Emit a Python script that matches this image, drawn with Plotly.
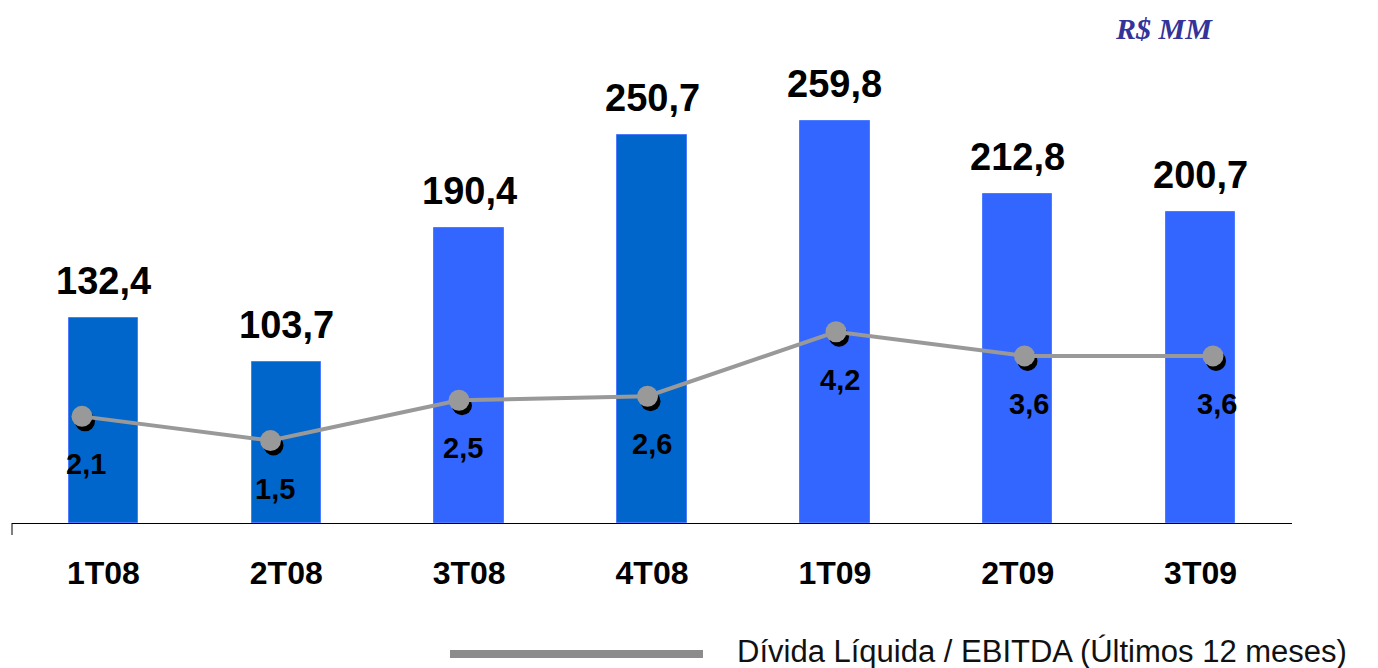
import plotly.graph_objects as go

categories = ["1T08", "2T08", "3T08", "4T08", "1T09", "2T09", "3T09"]
divida_liquida = [132.4, 103.7, 190.4, 250.7, 259.8, 212.8, 200.7]
divida_ebitda = [2.1, 1.5, 2.5, 2.6, 4.2, 3.6, 3.6]
bar_colors = ["#0066CC", "#0066CC", "#3366FF", "#0066CC", "#3366FF", "#3366FF", "#3366FF"]
legend_label = "Dívida Líquida / EBITDA (Últimos 12 meses)"
unit_label = "R$ MM"

# page body has an 8px default margin; size figure so it fits the window
OFF = 8
W, H = 1378 - OFF, 668 - OFF
L, T = 12 - OFF, 60 - OFF
axis_y = 523 - OFF
right_px = 1292 - OFF
R = W - right_px
B = H - axis_y
plot_w = W - L - R
plot_h = H - T - B

def px_x(x):   # reference pixel x -> paper
    return (x - OFF - L) / plot_w

def px_y(y):   # reference pixel y -> paper
    return (axis_y - (y - OFF)) / plot_h

def fmt(v):
    return f"{v:.1f}".replace(".", ",")

idx = list(range(len(categories)))

fig = go.Figure()
fig.add_trace(go.Bar(
    x=categories, y=divida_liquida, width=0.38,
    marker=dict(color=bar_colors, line=dict(color="#4d7cff", width=1)),
    hoverinfo="skip", showlegend=False,
))
# shadow markers
fig.add_trace(go.Scatter(
    x=idx, y=divida_ebitda, xaxis="x2", yaxis="y2", mode="markers",
    marker=dict(size=20, color="#000000"), showlegend=False, hoverinfo="skip",
))
fig.add_trace(go.Scatter(
    x=idx, y=divida_ebitda, xaxis="x3", yaxis="y3", mode="lines+markers",
    line=dict(color="#999999", width=4),
    marker=dict(size=21, color="#999999"), showlegend=False, hoverinfo="skip",
))

annotations = []
for c, v in zip(categories, divida_liquida):
    annotations.append(dict(
        x=c, y=v, xref="x", yref="y", text=fmt(v), showarrow=False,
        yanchor="bottom", yshift=14,
        font=dict(family="Liberation Sans", size=38, color="#000000", weight="bold"),
    ))
for i, v in zip(idx, divida_ebitda):
    annotations.append(dict(
        x=i, y=v, xref="x3", yref="y3", text=fmt(v), showarrow=False,
        yanchor="middle", yshift=-48, xshift=4,
        font=dict(family="Liberation Sans", size=29, color="#000000", weight="bold"),
    ))

annotations.append(dict(
    x=px_x(735), y=px_y(651), xref="paper", yref="paper",
    text=legend_label, showarrow=False, xanchor="left", yanchor="middle",
    font=dict(family="Liberation Sans", size=31, color="#111111"),
))
annotations.append(dict(
    x=px_x(1164), y=px_y(28), xref="paper", yref="paper",
    text=unit_label, showarrow=False, xanchor="center", yanchor="middle",
    font=dict(family="Liberation Serif", size=30, color="#333399", weight="bold", style="italic"),
))

shapes = [
    dict(type="line", xref="paper", yref="paper",
         x0=px_x(450), x1=px_x(703), y0=px_y(654), y1=px_y(654),
         line=dict(color="#8c8c8c", width=8)),
    dict(type="line", xref="paper", yref="paper", x0=0, x1=0,
         y0=0, y1=-12 / plot_h, line=dict(color="#000000", width=1)),
]

# scales
y_px = 1.548            # px per R$ MM
y2_px = 40.3            # px per ratio unit
y2_zero = 22            # px above baseline for ratio zero
lx0, lstep = 82 - OFF, 188.5  # line x positions in px
x_lo = -(lx0 - L) / lstep
x_hi = len(categories) - 1 + (L + plot_w - (lx0 + lstep * (len(categories) - 1))) / lstep
y2_lo = -y2_zero / y2_px
y2_hi = (plot_h - y2_zero) / y2_px
sdx, sdy = 3, 5

fig.update_layout(
    width=W, height=H, margin=dict(l=L, r=R, t=T, b=B),
    paper_bgcolor="white", plot_bgcolor="white",
    annotations=annotations, shapes=shapes, showlegend=False,
    bargap=0,
    xaxis=dict(type="category", range=[-0.5, len(categories) - 0.5],
               showline=True, linecolor="#000000", linewidth=1,
               showgrid=False, zeroline=False, ticks="", ticklabelstandoff=22,
               tickfont=dict(family="Liberation Sans", size=32, color="#000000", weight="bold")),
    yaxis=dict(range=[0, plot_h / y_px], visible=False, showgrid=False),
    xaxis2=dict(overlaying="x", range=[x_lo - sdx / lstep, x_hi - sdx / lstep], visible=False),
    yaxis2=dict(overlaying="y", range=[y2_lo + sdy / y2_px, y2_hi + sdy / y2_px], visible=False),
    xaxis3=dict(overlaying="x", range=[x_lo, x_hi], visible=False),
    yaxis3=dict(overlaying="y", range=[y2_lo, y2_hi], visible=False),
)

fig.write_html("out.html")
